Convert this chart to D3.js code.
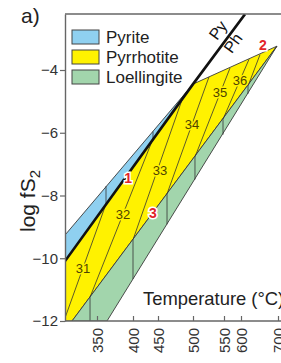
<!DOCTYPE html>
<html>
<head>
<meta charset="utf-8">
<script src="https://cdn.jsdelivr.net/npm/d3@7/dist/d3.min.js"></script>
<style>
  body { margin: 0; background: #fff; }
  text { font-family: "Liberation Sans", Arial, sans-serif; }
</style>
</head>
<body>
<div id="chart"></div>
<script>
// axis values
const tempTicks = [350, 400, 450, 500, 550, 600, 700];
const logTicks = [-12, -10, -8, -6, -4];

// phase fields, [T °C, log fS2]
const pyPoBuffer = [[305.6, -10.09], [500, -4.45], [610.8, -2.22]];
const pyriteField = [[305.6, -9.26], [500, -4.45], [305.6, -10.09]];
const pyrrhotiteField = [[305.6, -10.09], [500, -4.45], [697, -3.24], [315.3, -12], [305.6, -12]];
const loellingiteField = [[315.3, -12], [697, -3.24], [363.9, -12]];

// arsenopyrite isopleths (at.% As)
const isoLabels = ["31", "32", "33", "34", "35", "36", ""];
const isoLines = [
    [[362.5, -7.70], [362.5, -8.27], [305.6, -11.90]],
    [[440, -5.96], [440, -6.19], [340.3, -11.24], [340.3, -12]],
    [[485.7, -4.86], [400, -9.41], [400, -10.66]],
    [[525.8, -4.22], [462.9, -7.95], [462.9, -8.92]],
    [[567.6, -3.94], [503.2, -6.77], [503.2, -7.49]],
    [[621.6, -3.66], [548.4, -5.57], [548.4, -6.06]],
    [[651.4, -3.51], [618.9, -4.51], [618.9, -4.76]]
];
const isoLabelAt = [[330.6, -10.31], [386.1, -8.59], [452.9, -7.19], [498.6, -5.72], [543.6, -4.73], [597, -4.32], null];

// sample points
const sampleIds = ["1", "2", "3"];
const sampleAt = [[393.1, -7.44], [659.5, -3.20], [440, -8.56]];

const legendNames = ["Pyrite", "Pyrrhotite", "Loellingite"];
const legendColors = ["#8fd0f0", "#fff200", "#a2d5ac"];

const width = 281, height = 363;
const margin = {top: 14, left: 65, bottom: 42};
const plotW = width - margin.left;   // runs off the right edge like the source
const plotH = height - margin.top - margin.bottom;

// the source axis is not evenly spaced, so each tick keeps its own spot
const tickPos = [32, 68, 93, 128, 159, 176, 213];
const x = d3.scaleLinear().domain(tempTicks).range(tickPos);
const y = d3.scaleLinear().domain([-12, -2.215]).range([plotH, 0]);

const svg = d3.select("#chart").append("svg")
    .attr("width", width)
    .attr("height", height);

svg.append("defs").append("clipPath")
    .attr("id", "plot-clip")
    .append("rect")
    .attr("width", plotW)
    .attr("height", plotH);

const g = svg.append("g")
    .attr("transform", `translate(${margin.left},${margin.top})`);

const plot = g.append("g").attr("clip-path", "url(#plot-clip)");

const line = d3.line().x(d => x(d[0])).y(d => y(d[1]));

// Fields
[[pyriteField, legendColors[0]], [pyrrhotiteField, legendColors[1]], [loellingiteField, legendColors[2]]]
    .forEach(([pts, col]) => {
        plot.append("path")
            .attr("d", line(pts) + "Z")
            .attr("fill", col)
            .attr("stroke", "#3a3a3a")
            .attr("stroke-width", 0.9);
    });

// Isopleths
plot.append("g")
    .selectAll("path")
    .data(isoLines)
    .join("path")
    .attr("d", d => line(d))
    .attr("fill", "none")
    .attr("stroke", "#333")
    .attr("stroke-width", 0.8);

// Py / Po buffer
plot.append("path")
    .attr("d", line(pyPoBuffer))
    .attr("fill", "none")
    .attr("stroke", "#111")
    .attr("stroke-width", 2.6);

// Isopleth labels
g.append("g")
    .selectAll("text")
    .data(isoLabels.map((t, i) => ({t, at: isoLabelAt[i]})).filter(d => d.at))
    .join("text")
    .attr("x", d => x(d.at[0]))
    .attr("y", d => y(d.at[1]))
    .attr("dy", "0.35em")
    .attr("text-anchor", "middle")
    .attr("fill", "#4f4300")
    .attr("stroke", "#fff200")
    .attr("stroke-width", 3)
    .attr("paint-order", "stroke")
    .style("font-size", "13px")
    .text(d => d.t);

// Sample numbers
g.append("g")
    .selectAll("text")
    .data(sampleIds.map((t, i) => ({t, at: sampleAt[i]})))
    .join("text")
    .attr("x", d => x(d.at[0]))
    .attr("y", d => y(d.at[1]))
    .attr("dy", "0.35em")
    .attr("text-anchor", "middle")
    .attr("fill", "#e2232a")
    .attr("stroke", "#fff")
    .attr("stroke-width", 3)
    .attr("paint-order", "stroke")
    .style("font-size", "14px")
    .style("font-weight", "bold")
    .text(d => d.t);

// Py / Ph labels along the buffer
const angle = Math.atan2(y(pyPoBuffer[2][1]) - y(pyPoBuffer[0][1]), x(pyPoBuffer[2][0]) - x(pyPoBuffer[0][0])) * 180 / Math.PI;
[["Py", 540.3, -2.73], ["Ph", 576.5, -3.14]].forEach(([t, tx, ly]) => {
    g.append("text")
        .attr("transform", `translate(${x(tx)},${y(ly)}) rotate(${angle})`)
        .attr("dy", "0.35em")
        .attr("text-anchor", "middle")
        .attr("fill", "#111")
        .style("font-size", "16px")
        .text(t);
});

// Axes
const yAxis = g.append("g")
    .call(d3.axisLeft(y).tickValues(logTicks).tickSize(5).tickPadding(2).tickSizeOuter(0));
yAxis.selectAll("text").style("font-size", "15px").attr("fill", "#333");

const xAxis = g.append("g")
    .attr("transform", `translate(0,${plotH})`)
    .call(d3.axisBottom(x).tickValues(tempTicks).tickFormat(d3.format("d")).tickSize(-5).tickSizeOuter(0));
xAxis.selectAll("text")
    .attr("transform", "rotate(-90)")
    .attr("x", -7)
    .attr("y", 0)
    .attr("dy", "0.35em")
    .style("text-anchor", "end")
    .style("font-size", "15px")
    .attr("fill", "#333");
xAxis.select(".domain").attr("d", `M0,0H${plotW}`);

[yAxis, xAxis].forEach(a => {
    a.select(".domain").attr("stroke", "#666").attr("stroke-width", 1.4);
    a.selectAll(".tick line").attr("stroke", "#666").attr("stroke-width", 1.2);
});

// frame top
g.append("line")
    .attr("x1", 0).attr("x2", plotW)
    .attr("y1", 0).attr("y2", 0)
    .attr("stroke", "#666")
    .attr("stroke-width", 1.4);

// Legend
const legend = g.append("g").attr("transform", "translate(7,16)");
legendNames.forEach((name, i) => {
    const row = legend.append("g").attr("transform", `translate(0,${i * 20})`);
    row.append("rect")
        .attr("width", 27).attr("height", 14)
        .attr("fill", legendColors[i])
        .attr("stroke", "#444")
        .attr("stroke-width", 1);
    row.append("text")
        .attr("x", 34).attr("y", 13)
        .attr("fill", "#222")
        .style("font-size", "17px")
        .text(name);
});

// Titles
svg.append("text")
    .attr("x", 143).attr("y", 305)
    .attr("fill", "#222")
    .style("font-size", "18.4px")
    .text("Temperature (°C)");

const yTitle = svg.append("text")
    .attr("transform", "translate(35,201) rotate(-90)")
    .attr("text-anchor", "middle")
    .attr("fill", "#222")
    .style("font-size", "21px");
yTitle.append("tspan").text("log fS");
yTitle.append("tspan").attr("dy", "0.3em").style("font-size", "15px").text("2");

svg.append("text")
    .attr("x", 21).attr("y", 23)
    .attr("fill", "#222")
    .style("font-size", "21px")
    .text("a)");
</script>
</body>
</html>
